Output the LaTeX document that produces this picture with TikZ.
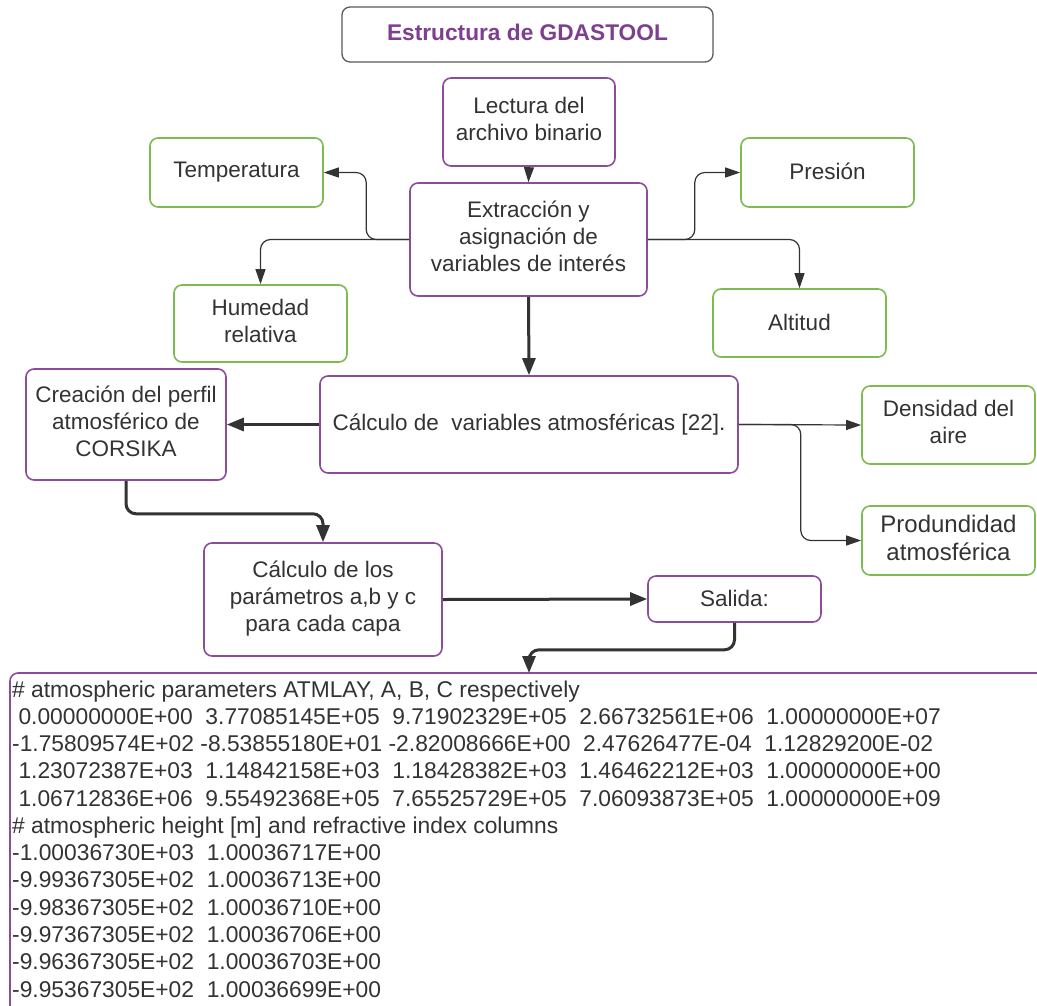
\documentclass[tikz,border=0pt]{standalone}
\usepackage{fontspec}
\setmainfont{Liberation Sans}
\usetikzlibrary{arrows.meta}
\definecolor{txt}{HTML}{333333}
\definecolor{purp}{HTML}{8E4B9C}
\definecolor{titlep}{HTML}{7E3F8E}
\definecolor{grn}{HTML}{7DBB4F}
\definecolor{gry}{HTML}{5A5A5A}
\begin{document}
\begin{tikzpicture}[x=1pt,y=-1pt,
  basebox/.style={draw, rounded corners=8pt, line width=1.6pt, align=center, inner sep=0pt,
    text=txt, font=\fontsize{22.5}{27}\selectfont},
  pbox/.style={basebox, draw=purp},
  gbox/.style={basebox, draw=grn},
  thinarrow/.style={draw=txt, line width=1.2pt, rounded corners=10pt,
    -{Triangle[length=15pt,width=10pt]}},
  thickarrow/.style={draw=txt, line width=3pt, rounded corners=10pt,
    -{Triangle[length=17pt,width=13pt]}},
  outline/.style={anchor=base west, inner sep=0pt, text=txt, font=\fontsize{22.8}{27}\selectfont}
]
\useasboundingbox (0,0) rectangle (1037,1005);
\clip (0,0) rectangle (1037,1005);
\fill[white] (0,0) rectangle (1037,1005);

% title
\node[basebox, draw=gry, line width=1.3pt, minimum width=371pt, minimum height=55pt,
  text=titlep, font=\bfseries\fontsize{22.7}{27}\selectfont] (title) at (527.5,34.5)
  {\raisebox{4pt}{Estructura de GDASTOOL}};

\node[pbox, minimum width=172pt, minimum height=88pt] (lect) at (529,122) {\raisebox{3pt}{\begin{tabular}{@{}c@{}}Lectura del\\archivo binario\end{tabular}}};
\node[gbox, minimum width=173pt, minimum height=69pt] (temp) at (236.5,172.5) {\raisebox{2pt}{Temperatura}};
\node[pbox, minimum width=237pt, minimum height=113pt] (extr) at (528.5,239.5) {\raisebox{3pt}{\begin{tabular}{@{}c@{}}Extracción y\\asignación de\\variables de interés\end{tabular}}};
\node[gbox, minimum width=173pt, minimum height=69pt] (pres) at (827.5,172.5) {\raisebox{2pt}{Presión}};
\node[gbox, minimum width=173pt, minimum height=77pt] (hum) at (260.5,323.5) {\raisebox{4pt}{\begin{tabular}{@{}c@{}}Humedad\\relativa\end{tabular}}};
\node[gbox, minimum width=173pt, minimum height=68pt] (alt) at (799.5,323) {\raisebox{2pt}{Altitud}};
\node[pbox, minimum width=418pt, minimum height=97pt] (calc) at (529,424.5) {\raisebox{2pt}{Cálculo de\ \ variables atmosféricas [22].}};
\node[pbox, minimum width=200pt, minimum height=111pt] (crea) at (126,424.5) {\raisebox{3pt}{\begin{tabular}{@{}c@{}}Creación del perfil\\atmosférico de\\CORSIKA\end{tabular}}};
\node[gbox, minimum width=173pt, minimum height=78pt] (dens) at (948.5,425) {\raisebox{4pt}{\begin{tabular}{@{}c@{}}Densidad del\\aire\end{tabular}}};
\node[gbox, minimum width=173pt, minimum height=69pt, font=\fontsize{24}{28}\selectfont] (prof) at (948.5,540.5) {\raisebox{4pt}{\begin{tabular}{@{}c@{}}Produndidad\\atmosférica\end{tabular}}};
\node[pbox, minimum width=238pt, minimum height=113pt] (param) at (323,599.5) {\begin{tabular}{@{}c@{}}Cálculo de los\\parámetros a,b y c\\para cada capa\end{tabular}};
\node[pbox, minimum width=173pt, minimum height=46pt] (sal) at (734.5,599) {\raisebox{2pt}{Salida:}};

% output box
\draw[purp, line width=1.6pt, rounded corners=8pt] (10,1020) -- (10,673) -- (1050,673);
\coordinate (outtop) at (529,673);

% connectors
\draw[thinarrow] (lect.south) -- (extr.north);
\draw[thinarrow] (extr.west) -- ++(-43,0) |- (temp.east);
\draw[thinarrow] (extr.west) -| (hum.north);
\draw[thinarrow] (extr.east) -- ++(47,0) |- (pres.west);
\draw[thinarrow] (extr.east) -| (alt.north);
\draw[thickarrow] (extr.south) -- (calc.north);
\draw[thickarrow] (calc.west) -- (crea.east);
\draw[thinarrow] (calc.east) -- (dens.west);
\draw[thinarrow] (calc.east) -- ++(62,0) |- (prof.west);
\draw[thickarrow] (crea.south) -- ++(0,33) -| (param.north);
\draw[thickarrow] (param.east) -- (sal.west);
\draw[thickarrow] (sal.south) -- ++(0,27) -| (outtop);

% output text
\node[outline] (l1) at (12,697) {\# atmospheric parameters ATMLAY, A, B, C respectively};
\node[outline] (l2) at (12,724.3) {\ 0.00000000E+00\ \ 3.77085145E+05\ \ 9.71902329E+05\ \ 2.66732561E+06\ \ 1.00000000E+07};
\node[outline] (l3) at (12,751.5) {-1.75809574E+02 -8.53855180E+01 -2.82008666E+00\ \ 2.47626477E-04\ \ 1.12829200E-02};
\node[outline] (l4) at (12,778.8) {\ 1.23072387E+03\ \ 1.14842158E+03\ \ 1.18428382E+03\ \ 1.46462212E+03\ \ 1.00000000E+00};
\node[outline] (l5) at (12,806.1) {\ 1.06712836E+06\ \ 9.55492368E+05\ \ 7.65525729E+05\ \ 7.06093873E+05\ \ 1.00000000E+09};
\node[outline] (l6) at (12,833.4) {\# atmospheric height [m] and refractive index columns};
\node[outline] (l7) at (12,860.6) {-1.00036730E+03\ \ 1.00036717E+00};
\node[outline] (l8) at (12,887.9) {-9.99367305E+02\ \ 1.00036713E+00};
\node[outline] (l9) at (12,915.2) {-9.98367305E+02\ \ 1.00036710E+00};
\node[outline] (l10) at (12,942.4) {-9.97367305E+02\ \ 1.00036706E+00};
\node[outline] (l11) at (12,969.7) {-9.96367305E+02\ \ 1.00036703E+00};
\node[outline] (l12) at (12,997) {-9.95367305E+02\ \ 1.00036699E+00};
\end{tikzpicture}
\end{document}
